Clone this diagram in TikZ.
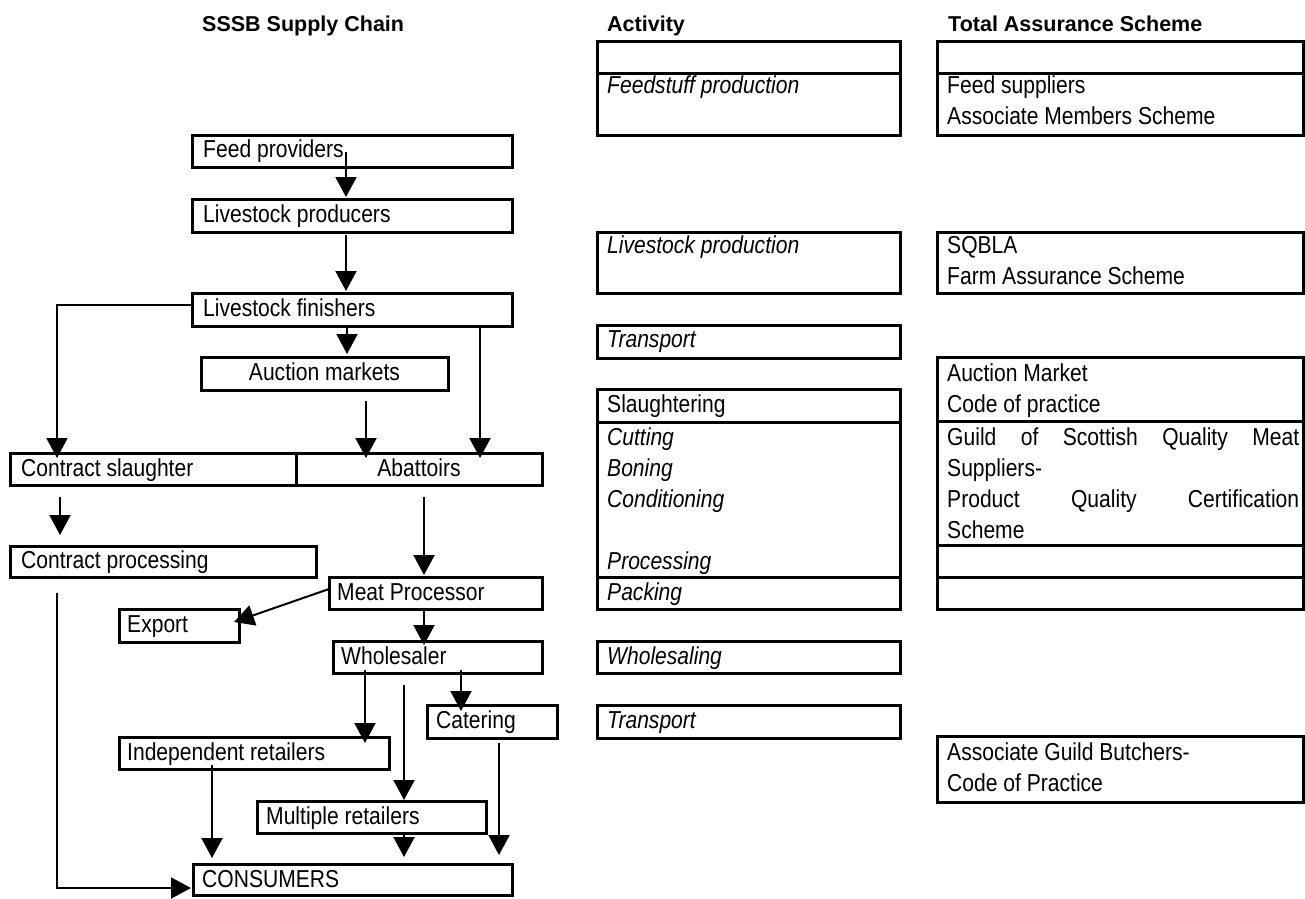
\documentclass[tikz,border=0pt]{standalone}
\usepackage{fontspec}
\setmainfont[FakeStretch=0.86]{Liberation Sans}
\newfontfamily\headfont{Liberation Sans}
\usetikzlibrary{arrows.meta,calc}
\begin{document}
\begin{tikzpicture}[x=1pt,y=-1pt,
  cell/.style={draw,line width=3pt,anchor=north west,inner sep=0pt,outer sep=0pt},
  lbl/.style={anchor=base west,inner sep=0pt,font=\fontsize{24.5}{31}\selectfont},
  clbl/.style={lbl,anchor=base},
  ilbl/.style={lbl,font=\fontsize{24.5}{31}\selectfont\itshape},
  head/.style={anchor=base west,inner sep=0pt,font=\headfont\bfseries\fontsize{21.5}{26}\selectfont},
  arr/.style={line width=2pt,-{Triangle[width=21pt,length=20pt]}},
]
\useasboundingbox (0,0) rectangle (1305,898);
\fill[white] (0,0) rectangle (1305,898);

% headings
\node[head] (h1) at (202,31) {SSSB Supply Chain};
\node[head] (h2) at (607,31) {Activity};
\node[head] (h3) at (948,31) {Total Assurance Scheme};

% supply chain boxes
\node[cell,minimum width=320pt,minimum height=32pt] (feed) at (192,135) {};
\node[cell,minimum width=320pt,minimum height=33pt] (prod) at (192,199) {};
\node[cell,minimum width=320pt,minimum height=33pt] (fin) at (192,293) {};
\node[cell,minimum width=247pt,minimum height=33pt] (auc) at (201,357) {};
\node[cell,minimum width=286pt,minimum height=32pt] (cs) at (10,453) {};
\node[cell,minimum width=246pt,minimum height=32pt] (abat) at (296,453) {};
\node[cell,minimum width=306pt,minimum height=31pt] (cp) at (10,546) {};
\node[cell,minimum width=213pt,minimum height=32pt] (mp) at (329,577) {};
\node[cell,minimum width=120pt,minimum height=33pt] (exp) at (119,609) {};
\node[cell,minimum width=209pt,minimum height=32pt] (whol) at (333,641) {};
\node[cell,minimum width=130pt,minimum height=33pt] (cat) at (427,705) {};
\node[cell,minimum width=270pt,minimum height=32pt] (ind) at (119,737) {};
\node[cell,minimum width=229pt,minimum height=32pt] (mult) at (257,801) {};
\node[cell,minimum width=319pt,minimum height=31pt] (cons) at (193,864) {};

\node[lbl] (tfeed) at (203,157) {Feed providers};
\node[lbl] (tprod) at (203,222) {Livestock producers};
\node[lbl] (tfin) at (203,316) {Livestock finishers};
\node[clbl] (tauc) at (324.5,380) {Auction markets};
\node[lbl] (tcs) at (21,476) {Contract slaughter};
\node[clbl] (tabat) at (419,476) {Abattoirs};
\node[lbl] (tcp) at (21,568) {Contract processing};
\node[lbl] (tmp) at (337,600) {Meat Processor};
\node[lbl] (texp) at (127,632) {Export};
\node[lbl] (twhol) at (341,664) {Wholesaler};
\node[lbl] (tcat) at (436,728) {Catering};
\node[lbl] (tind) at (127,760) {Independent retailers};
\node[lbl] (tmult) at (266,824) {Multiple retailers};
\node[lbl] (tcons) at (202,887) {CONSUMERS};

% connectors
\draw[arr] ($(feed.north west)+(154,17)$) -- ($(prod.north west)+(154,-2)$);
\draw[arr] ($(prod.north west)+(154,36)$) -- ($(fin.north west)+(154,-2)$);
\draw[arr] ($(fin.north west)+(0,12)$) -| ($(cs.north west)+(47,5)$);
\draw[arr] ($(fin.north west)+(155,33)$) -- ($(auc.north west)+(146,-3)$);
\draw[arr] ($(auc.north west)+(165,44)$) -- ($(abat.north west)+(70,5)$);
\draw[arr] ($(fin.north west)+(288,33)$) -- ($(abat.north west)+(184,5)$);
\draw[arr] ($(cs.north west)+(50,44)$) -- ($(cp.north west)+(50,-11)$);
\draw[arr] ($(abat.north west)+(128,44)$) -- ($(mp.north west)+(95,-2)$);
\draw[arr] ($(mp.north west)+(0,12)$) -- ($(exp.north west)+(115,13)$);
\draw[arr] ($(mp.north west)+(95,32)$) -- ($(whol.north west)+(91,4)$);
\draw[arr] ($(whol.north west)+(32,29)$) -- ($(ind.north west)+(246,6)$);
\draw[arr] ($(whol.north west)+(71,44)$) -- ($(mult.north west)+(147,-1)$);
\draw[arr] ($(whol.north west)+(128,29)$) -- ($(cat.north west)+(34,6)$);
\draw[arr] ($(ind.north west)+(93,28)$) -- ($(cons.north west)+(19,-6)$);
\draw[arr] ($(mult.north west)+(147,32)$) -- ($(cons.north west)+(211,-7)$);
\draw[arr] ($(cat.north west)+(72,38)$) -- ($(cons.north west)+(306,-9)$);
\draw[arr] ($(cp.north west)+(47,47)$) |- ($(cons.north west)+(-2,24)$);

% activity column
\node[cell,minimum width=303pt,minimum height=32pt] (act0) at (597,41) {};
\node[cell,minimum width=303pt,minimum height=62pt] (act1) at (597,73) {};
\node[cell,minimum width=303pt,minimum height=61pt] (act2) at (597,232) {};
\node[cell,minimum width=303pt,minimum height=33pt] (act3) at (597,325) {};
\node[cell,minimum width=303pt,minimum height=33pt] (act4) at (597,389) {};
\node[cell,minimum width=303pt,minimum height=155pt] (act5) at (597,422) {};
\node[cell,minimum width=303pt,minimum height=32pt] (act6) at (597,577) {};
\node[cell,minimum width=303pt,minimum height=32pt] (act7) at (597,641) {};
\node[cell,minimum width=303pt,minimum height=33pt] (act8) at (597,705) {};

\node[ilbl] (ta1) at (607,93) {Feedstuff production};
\node[ilbl] (ta2) at (607,253) {Livestock production};
\node[ilbl] (ta3) at (607,347) {Transport};
\node[lbl] (ta4) at (607,412) {Slaughtering};
\node[ilbl] (ta5a) at (607,445) {Cutting};
\node[ilbl] (ta5b) at (607,476) {Boning};
\node[ilbl] (ta5c) at (607,507) {Conditioning};
\node[ilbl] (ta5d) at (607,569) {Processing};
\node[ilbl] (ta6) at (607,600) {Packing};
\node[ilbl] (ta7) at (607,664) {Wholesaling};
\node[ilbl] (ta8) at (607,728) {Transport};

% assurance column
\node[cell,minimum width=366pt,minimum height=32pt] (s0) at (937,41) {};
\node[cell,minimum width=366pt,minimum height=62pt] (s1) at (937,73) {};
\node[cell,minimum width=366pt,minimum height=61pt] (s2) at (937,232) {};
\node[cell,minimum width=366pt,minimum height=64pt] (s3) at (937,357) {};
\node[cell,minimum width=366pt,minimum height=124pt] (s4) at (937,421) {};
\node[cell,minimum width=366pt,minimum height=32pt] (s5) at (937,545) {};
\node[cell,minimum width=366pt,minimum height=32pt] (s6) at (937,577) {};
\node[cell,minimum width=366pt,minimum height=66pt] (s7) at (937,736) {};

\node[lbl] (ts1a) at (947,93) {Feed suppliers};
\node[lbl] (ts1b) at (947,124) {Associate Members Scheme};
\node[lbl] (ts2a) at (947,253) {SQBLA};
\node[lbl] (ts2b) at (947,284) {Farm Assurance Scheme};
\node[lbl] (ts3a) at (947,381) {Auction Market};
\node[lbl] (ts3b) at (947,412) {Code of practice};
\node[lbl] (ts4a) at (947,445) {\makebox[352pt][s]{Guild of Scottish Quality Meat}};
\node[lbl] (ts4b) at (947,476) {Suppliers-};
\node[lbl] (ts4c) at (947,507) {\makebox[352pt][s]{Product Quality Certification}};
\node[lbl] (ts4d) at (947,538) {Scheme};
\node[lbl] (ts7a) at (947,760) {Associate Guild Butchers-};
\node[lbl] (ts7b) at (947,791) {Code of Practice};
\end{tikzpicture}
\end{document}
